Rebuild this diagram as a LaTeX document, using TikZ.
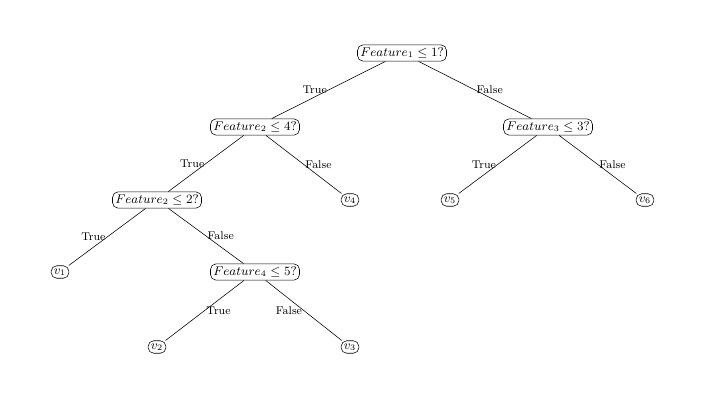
\documentclass[tikz,border=0pt]{standalone}
\begin{document}
\begin{tikzpicture}[x=0.025cm,y=-0.025cm,
  tn/.style={draw,rounded corners=4pt,inner sep=2pt,font=\small},
  el/.style={font=\footnotesize,inner sep=1pt}]
\useasboundingbox (0,0) rectangle (717,409);
\node[tn] (r) at (402,53) {$Feature_1\leq 1?$};
\node[tn] (a) at (255,127) {$Feature_2\leq 4?$};
\node[tn] (b) at (548,127) {$Feature_3\leq 3?$};
\node[tn] (c) at (157,200) {$Feature_2\leq 2?$};
\node[tn] (v4) at (350,200) {$v_4$};
\node[tn] (v5) at (450,200) {$v_5$};
\node[tn] (v6) at (645,200) {$v_6$};
\node[tn] (v1) at (60,272) {$v_1$};
\node[tn] (d) at (255,272) {$Feature_4\leq 5?$};
\node[tn] (v2) at (157,347) {$v_2$};
\node[tn] (v3) at (350,347) {$v_3$};
\draw (r) -- node[el,anchor=east,pos=0.5] {True} (a);
\draw (r) -- node[el,anchor=west,pos=0.5] {False} (b);
\draw (a) -- node[el,anchor=east] {True} (c);
\draw (a) -- node[el,anchor=west] {False} (v4);
\draw (b) -- node[el,anchor=east] {True} (v5);
\draw (b) -- node[el,anchor=west] {False} (v6);
\draw (c) -- node[el,anchor=east] {True} (v1);
\draw (c) -- node[el,anchor=west] {False} (d);
\draw (d) -- node[el,anchor=west] {True} (v2);
\draw (d) -- node[el,anchor=east] {False} (v3);
\end{tikzpicture}
\end{document}
